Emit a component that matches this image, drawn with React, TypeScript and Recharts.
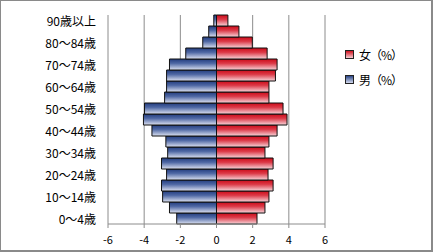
import React from 'react';
import { BarChart, Bar, XAxis, YAxis, CartesianGrid } from 'recharts';

const AGES = [
  '0〜4歳', '5〜9歳', '10〜14歳', '15〜19歳', '20〜24歳', '25〜29歳', '30〜34歳',
  '35〜39歳', '40〜44歳', '45〜49歳', '50〜54歳', '55〜59歳', '60〜64歳', '65〜69歳',
  '70〜74歳', '75〜79歳', '80〜84歳', '85〜89歳', '90歳以上',
];
// percent of population
const MALE = [2.2, 2.6, 2.98, 3.04, 2.76, 3.04, 2.7, 2.8, 3.57, 4.04, 3.98, 2.87, 2.76, 2.76, 2.6, 1.7, 0.76, 0.43, 0.15];
const FEMALE = [2.24, 2.68, 2.9, 3.13, 2.85, 3.13, 2.68, 2.9, 3.35, 3.9, 3.68, 2.9, 2.9, 3.26, 3.35, 2.8, 1.98, 1.24, 0.63];
const X_TICKS = [-6, -4, -2, 0, 2, 4, 6];
const FEMALE_LABEL = '女（%）';
const MALE_LABEL = '男（%）';

const FONT = '"Noto Sans CJK JP", "Noto Sans", sans-serif';

const rows = AGES.map((age, i) => ({ age, male: -MALE[i], female: FEMALE[i] }));

function LegendBox() {
  const items = [
    { label: FEMALE_LABEL, from: '#d0101e', to: '#f6cdd3' },
    { label: MALE_LABEL, from: '#2a4586', to: '#d4daee' },
  ];
  return (
    <div
      style={{
        position: 'absolute',
        left: 345,
        top: 42,
        fontFamily: FONT,
        fontSize: 12,
        letterSpacing: -1,
        color: '#000',
      }}
    >
      {items.map((it) => (
        <div key={it.label} style={{ display: 'flex', alignItems: 'center', height: 25 }}>
          <div
            style={{
              width: 7,
              height: 7,
              marginRight: 5,
              border: '1px solid #222',
              background: `linear-gradient(${it.from}, ${it.to})`,
            }}
          />
          <span>{it.label}</span>
        </div>
      ))}
    </div>
  );
}

export default function App() {
  return (
    <div style={{ position: 'absolute', left: 0, top: 0, width: 433, height: 252, background: '#fff' }}>
      <BarChart
        width={433}
        height={252}
        data={rows}
        layout="vertical"
        stackOffset="sign"
        barCategoryGap={0}
        margin={{ top: 15, right: 108, bottom: 0, left: 0 }}
      >
        <defs>
          <linearGradient id="gradM" x1="0" y1="0" x2="0" y2="1">
            <stop offset="0%" stopColor="#223c7e" />
            <stop offset="40%" stopColor="#4f68a4" />
            <stop offset="100%" stopColor="#dde2f2" />
          </linearGradient>
          <linearGradient id="gradF" x1="0" y1="0" x2="0" y2="1">
            <stop offset="0%" stopColor="#cc0a18" />
            <stop offset="40%" stopColor="#dc3a48" />
            <stop offset="100%" stopColor="#f8d6db" />
          </linearGradient>
        </defs>
        <CartesianGrid horizontal={false} stroke="#8c8c8c" />
        <XAxis
          type="number"
          domain={[-6, 6]}
          ticks={X_TICKS}
          interval={0}
          height={28}
          tickSize={4}
          tickMargin={8}
          stroke="#8c8c8c"
          tick={{ fill: '#000', fontSize: 11, fontFamily: FONT }}
        />
        <YAxis
          type="category"
          dataKey="age"
          reversed
          width={108}
          interval={0}
          axisLine={false}
          tickLine={false}
          tickSize={0}
          tickMargin={12}
          tick={{ fill: '#000', fontSize: 12, fontFamily: FONT, dy: 1 }}
          tickFormatter={(v: string, i: number) => (i % 2 === 0 ? v : '')}
        />
        <Bar dataKey="male" stackId="p" fill="url(#gradM)" stroke="#111" strokeWidth={1} isAnimationActive={false} />
        <Bar dataKey="female" stackId="p" fill="url(#gradF)" stroke="#111" strokeWidth={1} isAnimationActive={false} />
      </BarChart>
      <LegendBox />
      <div
        style={{
          position: 'absolute',
          inset: 0,
          boxSizing: 'border-box',
          borderTop: '1px solid #8a8a8a',
          borderLeft: '1px solid #8a8a8a',
          borderRight: '2px solid #8a8a8a',
          borderBottom: '2px solid #8a8a8a',
          pointerEvents: 'none',
        }}
      />
    </div>
  );
}
